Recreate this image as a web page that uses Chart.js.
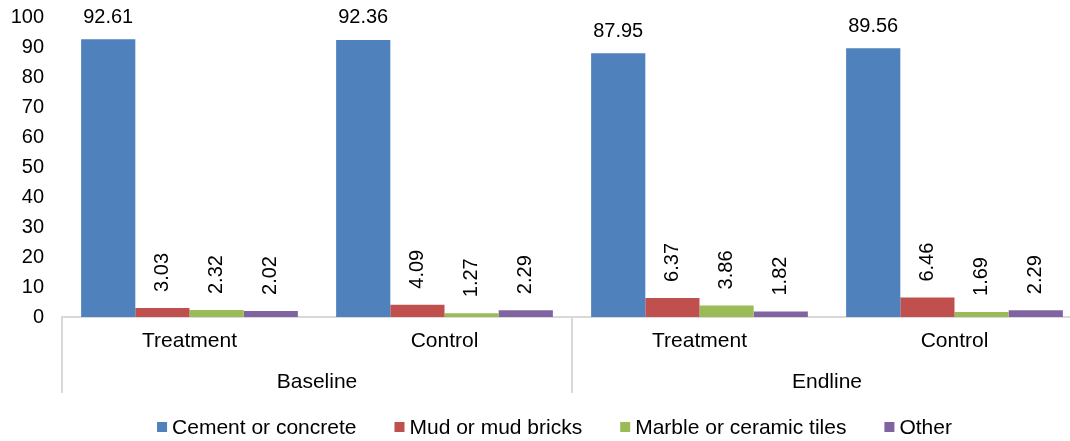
<!DOCTYPE html>
<html>
<head>
<meta charset="utf-8">
<script src="https://cdn.jsdelivr.net/npm/chart.js@4/dist/chart.umd.min.js"></script>
<style>
html,body{margin:0;padding:0;background:#fff;overflow:hidden;}
#wrap{width:1082px;height:441px;}
</style>
</head>
<body>
<div id="wrap"><canvas id="c" width="1082" height="441"></canvas></div>
<script>
// ---- data ----
const phases = ['Baseline', 'Endline'];
const arms = ['Treatment', 'Control', 'Treatment', 'Control'];
const seriesNames = ['Cement or concrete', 'Mud or mud bricks', 'Marble or ceramic tiles', 'Other'];
const cement = [92.61, 92.36, 87.95, 89.56];
const mud = [3.03, 4.09, 6.37, 6.46];
const marble = [2.32, 1.27, 3.86, 1.69];
const other = [2.02, 2.29, 1.82, 2.29];
const seriesColors = ['#4F81BD', '#C0504D', '#9BBB59', '#8064A2'];
const yMin = 0, yMax = 100, yStep = 10;

const FONT = "'Liberation Sans', Arial, sans-serif";
const seriesValues = [cement, mud, marble, other];

const annotPlugin = {
  id: 'annot',
  afterDatasetsDraw(chart) {
    const ctx = chart.ctx;
    ctx.save();
    ctx.fillStyle = '#000';
    ctx.font = '20px ' + FONT;
    chart.data.datasets.forEach((ds, di) => {
      const meta = chart.getDatasetMeta(di);
      meta.data.forEach((bar, i) => {
        const txt = ds.data[i].toFixed(2);
        if (di === 0) {
          ctx.textAlign = 'center';
          ctx.textBaseline = 'alphabetic';
          ctx.fillText(txt, bar.x, bar.y - 16.5);
        } else {
          ctx.save();
          ctx.translate(bar.x, bar.y - 16);
          ctx.rotate(-Math.PI / 2);
          ctx.textAlign = 'left';
          ctx.textBaseline = 'middle';
          ctx.fillText(txt, 0, 0);
          ctx.restore();
        }
      });
    });
    ctx.restore();
  },
  afterDraw(chart) {
    const ctx = chart.ctx;
    const xs = chart.scales.x;
    const area = chart.chartArea;
    ctx.save();
    // category group dividers
    ctx.strokeStyle = '#D9D9D9';
    ctx.lineWidth = 2;
    [-0.5, 1.5, 3.5].forEach(v => {
      const px = Math.round(xs.getPixelForValue(v));
      ctx.beginPath();
      ctx.moveTo(px, area.bottom);
      ctx.lineTo(px, 393);
      ctx.stroke();
    });
    // group labels
    ctx.fillStyle = '#000';
    ctx.font = '21px ' + FONT;
    ctx.textAlign = 'center';
    ctx.textBaseline = 'alphabetic';
    phases.forEach((p, gi) => {
      const px = xs.getPixelForValue(gi * 2 + 0.5);
      ctx.fillText(p, px, 388);
    });
    // legend
    const box = 10, gapText = 5, gapItem = 38;
    const widths = chart.data.datasets.map(d => ctx.measureText(d.label).width);
    let total = 0;
    widths.forEach((w, i) => { total += box + gapText + w + (i < widths.length - 1 ? gapItem : 0); });
    let x = 554.5 - total / 2;
    ctx.textAlign = 'left';
    chart.data.datasets.forEach((d, i) => {
      ctx.fillStyle = d.backgroundColor;
      ctx.fillRect(x, 422, box, box);
      ctx.fillStyle = '#000';
      ctx.fillText(d.label, x + box + gapText, 434);
      x += box + gapText + widths[i] + gapItem;
    });
    ctx.restore();
  }
};

new Chart(document.getElementById('c'), {
  type: 'bar',
  data: {
    labels: arms,
    datasets: seriesNames.map((n, i) => ({
      label: n,
      data: seriesValues[i],
      backgroundColor: seriesColors[i],
      borderWidth: 0,
      categoryPercentage: 0.85,
      barPercentage: 1.0
    }))
  },
  options: {
    responsive: false,
    devicePixelRatio: 1,
    animation: false,
    layout: { padding: { top: 17, left: 0, right: 0, bottom: 0 } },
    plugins: { legend: { display: false }, tooltip: { enabled: false } },
    scales: {
      x: {
        grid: { display: false, drawTicks: false },
        border: { display: true, color: '#D9D9D9', width: 2 },
        ticks: { color: '#000', font: { family: FONT, size: 21 }, padding: 12, maxRotation: 0, autoSkip: false },
        afterFit(s) { s.height = 124; }
      },
      y: {
        min: yMin, max: yMax,
        grid: { display: false, drawTicks: false },
        border: { display: false },
        ticks: { stepSize: yStep, color: '#000', font: { family: FONT, size: 20 }, padding: 18 },
        afterFit(s) { s.width = 62; s.paddingTop = 0; s.paddingBottom = 0; }
      }
    }
  },
  plugins: [annotPlugin]
});
</script>
</body>
</html>
